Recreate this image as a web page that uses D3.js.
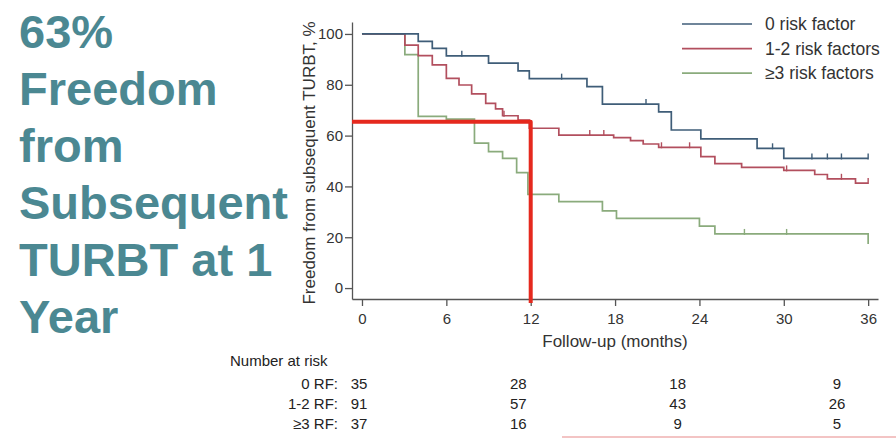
<!DOCTYPE html>
<html>
<head>
<meta charset="utf-8">
<script src="https://cdn.jsdelivr.net/npm/d3@7"></script>
<style>
  html, body { margin: 0; padding: 0; background: #fff; }
  svg { display: block; font-family: "Liberation Sans", Arial, Helvetica, sans-serif; }
</style>
</head>
<body>
<svg id="chart" width="896" height="438"></svg>
<script>
// ---------- data ----------
const titleLines = ["63%", "Freedom", "from", "Subsequent", "TURBT at 1", "Year"];

const seriesNames = ["0 risk factor", "1-2 risk factors", "\u22653 risk factors"];

// Kaplan-Meier steps: time (months) and survival (%) after each step
const blueTimes  = [0, 4.0, 5.0, 6.0, 9.0, 11.1, 11.9, 16.0, 17.1, 21.1, 22.0, 24.1, 28.1, 30.0, 36];
const blueValues = [100, 97.1, 94.3, 91.4, 88.5, 85.5, 82.4, 79.3, 72.4, 69.3, 62.2, 58.7, 55.0, 51.0, 51.0];
const blueCensor = [7.1, 14.2, 20.2, 29.2, 32.0, 33.1, 34.1, 36.0];

const redTimes  = [0, 3.05, 4.0, 5.0, 6.0, 6.9, 7.8, 8.8, 9.5, 10.0, 11.1, 11.9, 14.0, 17.9, 19.1, 20.0, 21.1, 24.1, 25.1, 27.0, 30.0, 32.2, 33.1, 35.1, 36];
const redValues = [100, 95.6, 91.5, 87.8, 82.5, 79.9, 76.4, 72.7, 70.5, 67.8, 66.1, 62.9, 60.2, 59.2, 58.0, 56.7, 55.4, 51.7, 49.0, 47.5, 46.3, 44.7, 43.0, 41.3, 41.3];
const redCensor = [10.1, 16.2, 17.2, 21.3, 23.3, 30.2, 34.1, 36.0];

const greenTimes  = [0, 3.05, 4.0, 6.0, 8.0, 9.0, 10.0, 11.0, 11.8, 14.0, 17.1, 18.1, 24.0, 25.1, 36];
const greenValues = [100, 91.9, 67.6, 66.5, 57.0, 53.7, 51.0, 45.4, 36.9, 34.0, 30.4, 27.4, 24.4, 21.3, 17.3];
const greenCensor = [12.0, 27.2, 30.2];

const xTicks = [0, 6, 12, 18, 24, 30, 36];
const yTicks = [0, 20, 40, 60, 80, 100];

// highlight: freedom at 12 months
const markTime = 12;
const markValue = 65.4;

// number at risk table
const riskTimes = [0, 12, 24, 36];
const riskLabels = ["0 RF:", "1-2 RF:", "\u22653 RF:"];
const riskBlue  = [35, 28, 18, 9];
const riskRed   = [91, 57, 43, 26];
const riskGreen = [37, 16, 9, 5];

// ---------- drawing ----------
const svg = d3.select("#chart");
const colors = ["#3f5d78", "#b24f5e", "#8aab7c"];
const teal = "#4b8892";
const axisColor = "#555";
const textColor = "#333";

// title
svg.append("g").selectAll("text")
  .data(titleLines)
  .join("text")
  .attr("x", 19)
  .attr("y", (d, i) => 48 + i * 57)
  .attr("fill", teal)
  .attr("font-size", 47)
  .attr("font-weight", "bold")
  .text(d => d);

// scales
const x = d3.scaleLinear().domain([-0.71, 36.7]).range([352, 878]);
const y = d3.scaleLinear().domain([-4.3, 104.7]).range([299, 22]);

// axes
const yAxis = svg.append("g")
  .attr("transform", `translate(${x.range()[0]},0)`)
  .call(d3.axisLeft(y).tickValues(yTicks).tickSize(7).tickSizeOuter(0).tickPadding(2));
const xAxis = svg.append("g")
  .attr("transform", `translate(0,${y.range()[0]})`)
  .call(d3.axisBottom(x).tickValues(xTicks).tickSize(7).tickSizeOuter(0).tickPadding(7));

[xAxis, yAxis].forEach(g => {
  g.select(".domain").attr("stroke", axisColor).attr("stroke-width", 1.3);
  g.selectAll(".tick line").attr("stroke", axisColor).attr("stroke-width", 1.3);
  g.selectAll(".tick text").attr("fill", textColor).attr("font-size", 15)
    .attr("font-family", '"Liberation Sans", Arial, sans-serif');
});

// axis titles
svg.append("text")
  .attr("transform", `translate(315,163) rotate(-90)`)
  .attr("text-anchor", "middle")
  .attr("fill", textColor)
  .attr("font-size", 17)
  .text("Freedom from subsequent TURBT, %");

svg.append("text")
  .attr("x", 615).attr("y", 347)
  .attr("text-anchor", "middle")
  .attr("fill", textColor)
  .attr("font-size", 17)
  .text("Follow-up (months)");

// curves
const series = [
  { t: blueTimes, v: blueValues, c: blueCensor },
  { t: redTimes, v: redValues, c: redCensor },
  { t: greenTimes, v: greenValues, c: greenCensor }
];

const line = d3.line().x(d => x(d[0])).y(d => y(d[1])).curve(d3.curveStepAfter);

function valueAt(s, t) {
  let v = s.v[0];
  for (let i = 0; i < s.t.length; i++) { if (s.t[i] <= t) v = s.v[i]; }
  return v;
}

// draw in reverse so blue is on top
[2, 1, 0].forEach(i => {
  const s = series[i];
  const pts = s.t.map((t, j) => [t, s.v[j]]);
  svg.append("path")
    .attr("d", line(pts))
    .attr("fill", "none")
    .attr("stroke", colors[i])
    .attr("stroke-width", 1.7);
  svg.append("g").selectAll("line")
    .data(s.c)
    .join("line")
    .attr("x1", d => x(d)).attr("x2", d => x(d))
    .attr("y1", d => y(valueAt(s, d)) - 5)
    .attr("y2", d => y(valueAt(s, d)) + 1)
    .attr("stroke", colors[i])
    .attr("stroke-width", 1.4);
});

// red highlight
svg.append("path")
  .attr("d", d3.line().curve(d3.curveLinear)([
    [x.range()[0], y(markValue)],
    [x(markTime), y(markValue)],
    [x(markTime), y.range()[0] + 4]
  ]))
  .attr("fill", "none")
  .attr("stroke", "#e5291e")
  .attr("stroke-width", 4)
  .attr("stroke-linejoin", "round");

// legend
const legend = svg.append("g");
seriesNames.forEach((name, i) => {
  const ly = 24 + i * 24.6;
  legend.append("line")
    .attr("x1", 682).attr("x2", 752)
    .attr("y1", ly).attr("y2", ly)
    .attr("stroke", colors[i]).attr("stroke-width", 1.7);
  legend.append("text")
    .attr("x", 765).attr("y", ly + 6)
    .attr("fill", textColor)
    .attr("font-size", 17.5)
    .text(name);
});

// number at risk
const tx = d3.scaleLinear().domain([0, 36]).range([359, 837]);
svg.append("text")
  .attr("x", 230).attr("y", 366)
  .attr("fill", "#222")
  .attr("font-size", 15)
  .text("Number at risk");

const riskRows = [riskBlue, riskRed, riskGreen];
riskRows.forEach((row, i) => {
  const ry = 389 + i * 20;
  svg.append("text")
    .attr("x", 338).attr("y", ry)
    .attr("text-anchor", "end")
    .attr("fill", "#222")
    .attr("font-size", 15)
    .text(riskLabels[i]);
  svg.append("g").selectAll("text")
    .data(row)
    .join("text")
    .attr("x", (d, j) => tx(riskTimes[j]))
    .attr("y", ry)
    .attr("text-anchor", "middle")
    .attr("fill", "#222")
    .attr("font-size", 15)
    .text(d => d);
});

// faint pink rule at the bottom of the slide
svg.append("line")
  .attr("x1", 562).attr("x2", 896)
  .attr("y1", 437).attr("y2", 437)
  .attr("stroke", "#f3c4c4").attr("stroke-width", 2);
</script>
</body>
</html>
